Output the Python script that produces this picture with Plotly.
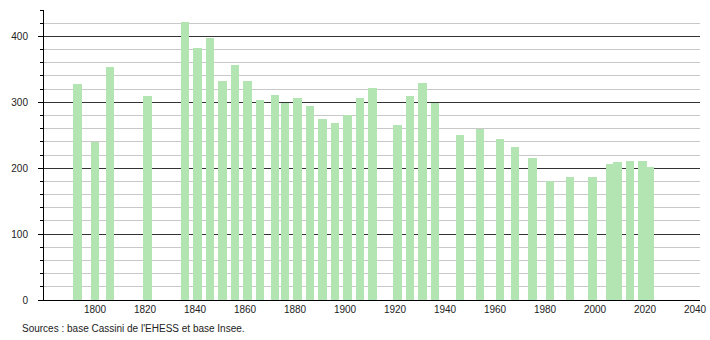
import plotly.graph_objects as go

years = [1793, 1800, 1806, 1821, 1836, 1841, 1846, 1851, 1856, 1861, 1866, 1872,
         1876, 1881, 1886, 1891, 1896, 1901, 1906, 1911, 1921, 1926, 1931, 1936,
         1946, 1954, 1962, 1968, 1975, 1982, 1990, 1999, 2006, 2009, 2014, 2019, 2022]
population = [327, 240, 353, 309, 422, 383, 398, 333, 357, 332, 304, 311,
              299, 306, 295, 275, 268, 280, 307, 322, 265, 310, 329, 299,
              251, 260, 244, 232, 215, 181, 186, 186, 206, 209, 211, 211, 202]
x_tick_vals = [1800, 1820, 1840, 1860, 1880, 1900, 1920, 1940, 1960, 1980, 2000, 2020, 2040]
y_tick_vals = [0, 100, 200, 300, 400]
source_text = "Sources : base Cassini de l'EHESS et base Insee."

fig = go.Figure()
fig.add_trace(go.Bar(
    x=years, y=population, width=3.3,
    marker=dict(color="#b2e5b2", line=dict(width=0)),
    hoverinfo="x+y",
))

fig.update_layout(
    width=710, height=340,
    margin=dict(l=44, r=10, t=10, b=40, autoexpand=False),
    paper_bgcolor="white", plot_bgcolor="white",
    font=dict(family="Liberation Sans, Arial, sans-serif", size=10, color="#222"),
    showlegend=False,
    bargap=0,
)

fig.update_xaxes(
    range=[1779.6, 2042],
    automargin=False,
    tickmode="array", tickvals=x_tick_vals, ticktext=[str(v) for v in x_tick_vals],
    showgrid=False, zeroline=False,
    showline=True, linecolor="#000", linewidth=1,
    ticks="", ticklabelstandoff=0,
    tickfont=dict(size=10),
)

fig.update_yaxes(
    range=[0, 440],
    automargin=False,
    tickmode="array", tickvals=y_tick_vals,
    showgrid=True, gridcolor="#333", gridwidth=1,
    zeroline=False,
    showline=True, linecolor="#000", linewidth=1,
    ticks="outside", ticklen=5, tickcolor="#000",
    ticklabelstandoff=8,
    tickfont=dict(size=10),
    minor=dict(dtick=20, tick0=0, showgrid=True, gridcolor="#c8c8c8", gridwidth=1,
               ticks="outside", ticklen=3, tickcolor="#000"),
)

fig.add_annotation(
    text=source_text, xref="paper", yref="paper",
    x=-24/656, y=-21/290, xanchor="left", yanchor="top",
    showarrow=False, font=dict(size=10, color="#222"),
)

fig.write_html("out.html")
